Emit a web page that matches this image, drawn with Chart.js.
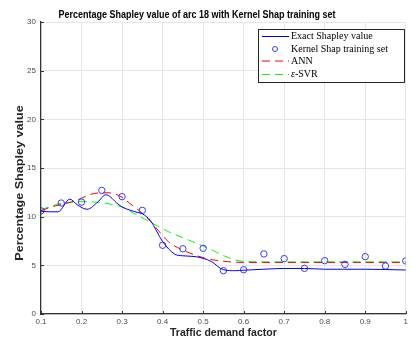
<!DOCTYPE html>
<html><head><meta charset="utf-8">
<script src="https://cdn.jsdelivr.net/npm/chart.js@4/dist/chart.umd.min.js"></script>
<style>html,body{margin:0;padding:0;background:#fff}#wrap{width:411px;height:340px}</style>
</head><body><div id="wrap"><canvas id="c" width="411" height="340"></canvas></div>
<script>
const titleText = 'Percentage Shapley value of arc 18 with Kernel Shap training set';
const xTitle = 'Traffic demand factor';
const yTitle = 'Percentage Shapley value';
const xTicks = [0.1,0.2,0.3,0.4,0.5,0.6,0.7,0.8,0.9,1];
const yTicks = [0,5,10,15,20,25,30];

const exactX = [0.1,0.125,0.142,0.171,0.19,0.214,0.24,0.26,0.29,0.3,0.337,0.35,0.37,0.4,0.43,0.45,0.48,0.5,0.52,0.55,0.58,0.6,0.65,0.7,0.75,0.8,0.9,1.0];
const exactY = [10.55,10.5,10.5,11.8,11.2,10.76,11.5,12.25,11.3,11.0,10.45,10.3,9.6,7.45,6.15,5.98,5.9,5.72,5.4,4.55,4.45,4.5,4.6,4.68,4.68,4.6,4.6,4.52];

const kernelX = [0.1,0.15,0.2,0.25,0.3,0.35,0.4,0.45,0.5,0.55,0.6,0.65,0.7,0.75,0.8,0.85,0.9,0.95,1.0];
const kernelY = [10.6,11.4,11.5,12.7,12.06,10.65,7.06,6.7,6.75,4.45,4.55,6.17,5.69,4.69,5.48,5.1,5.89,4.93,5.45];

const annX = [0.1,0.126,0.15,0.175,0.2,0.223,0.25,0.268,0.3,0.318,0.35,0.375,0.395,0.415,0.448,0.48,0.513,0.56,0.6,0.7,0.8,0.9,1.0];
const annY = [10.6,11.0,11.25,11.5,11.9,12.3,12.45,12.45,12.0,11.4,10.35,9.3,8.3,7.4,6.6,6.06,5.65,5.38,5.3,5.3,5.3,5.3,5.3];

const svrX = [0.1,0.142,0.2,0.256,0.305,0.318,0.367,0.415,0.464,0.513,0.562,0.6,0.65,0.7,0.8,0.9,1.0];
const svrY = [10.7,11.3,11.55,11.4,10.9,10.6,9.5,8.45,7.6,6.75,5.8,5.4,5.35,5.35,5.35,5.35,5.35];

const zip = (xs, ys) => xs.map((x, i) => ({x, y: ys[i]}));
const SANS = '"Liberation Sans", Arial, sans-serif';

const overlay = {
  id: 'overlay',
  beforeDatasetsDraw(chart) {
    // inward tick marks
    const ctx = chart.ctx, a = chart.chartArea;
    const xs = chart.scales.x, ys = chart.scales.y;
    ctx.save();
    ctx.strokeStyle = '#333'; ctx.lineWidth = 1;
    ctx.beginPath();
    xTicks.forEach(v => { const p = Math.round(xs.getPixelForValue(v)) + 0.5; ctx.moveTo(p, a.bottom); ctx.lineTo(p, a.bottom - 3); });
    yTicks.forEach(v => { const p = Math.round(ys.getPixelForValue(v)) + 0.5; ctx.moveTo(a.left, p); ctx.lineTo(a.left + 3, p); });
    ctx.stroke();
    ctx.restore();
  },
  afterDraw(chart) {
    const ctx = chart.ctx, a = chart.chartArea;
    ctx.save();
    ctx.textAlign = 'center'; ctx.textBaseline = 'middle';
    // title
    ctx.save();
    ctx.translate(197, 15);
    ctx.scale(1, 1.15);
    ctx.fillStyle = '#000';
    ctx.font = 'bold 9px ' + SANS;
    ctx.fillText(titleText, 0, 0);
    ctx.restore();
    // x title
    ctx.save();
    ctx.translate((a.left + a.right) / 2, 333);
    ctx.fillStyle = '#262626';
    ctx.font = 'bold 10.5px ' + SANS;
    ctx.fillText(xTitle, 0, 0);
    ctx.restore();
    // y title
    ctx.save();
    ctx.translate(20, 183);
    ctx.rotate(-Math.PI/2);
    ctx.scale(1.2, 1);
    ctx.fillStyle = '#262626';
    ctx.font = 'bold 10.5px ' + SANS;
    ctx.fillText(yTitle, 0, 0);
    ctx.restore();
    // legend
    const lx = 258, ly = 29, lw = 146, lh = 53;
    ctx.fillStyle = '#fff';
    ctx.fillRect(lx, ly, lw, lh);
    ctx.strokeStyle = '#262626'; ctx.lineWidth = 1;
    ctx.strokeRect(lx + 0.5, ly + 0.5, lw, lh);
    const rows = [36.5, 49, 61, 74.5];
    chart.data.datasets.forEach((ds, i) => {
      const y = rows[i];
      ctx.save();
      if (ds.showLine === false) {
        ctx.strokeStyle = ds.borderColor; ctx.lineWidth = 1;
        ctx.beginPath(); ctx.arc(275, y, 2.5, 0, Math.PI*2); ctx.stroke();
      } else {
        ctx.strokeStyle = ds.borderColor; ctx.lineWidth = ds.borderWidth;
        ctx.setLineDash(ds.borderDash || []);
        ctx.beginPath(); ctx.moveTo(262, y); ctx.lineTo(289, y); ctx.stroke();
      }
      ctx.restore();
      ctx.fillStyle = '#000';
      ctx.font = '10px "Liberation Serif", "Times New Roman", serif';
      ctx.textAlign = 'left'; ctx.textBaseline = 'middle';
      if (ds.label.startsWith('ε')) {
        ctx.font = 'italic 10px "Liberation Serif", serif';
        ctx.fillText('ε', 291, y);
        const w = ctx.measureText('ε').width;
        ctx.font = '10px "Liberation Serif", serif';
        ctx.fillText(ds.label.slice(1), 291 + w, y);
      } else {
        ctx.fillText(ds.label, 291, y);
      }
    });
    ctx.restore();
  }
};

new Chart(document.getElementById('c'), {
  type: 'line',
  data: {
    datasets: [
      {label: 'Exact Shapley value', data: zip(exactX, exactY), borderColor: '#0000ff', borderWidth: 1, pointRadius: 0, cubicInterpolationMode: 'monotone', fill: false},
      {label: 'Kernel Shap training set', data: zip(kernelX, kernelY), borderColor: '#3b3bff', backgroundColor: 'rgba(0,0,0,0)', showLine: false, pointRadius: 3.2, pointBorderWidth: 1, pointStyle: 'circle'},
      {label: 'ANN', data: zip(annX, annY), borderColor: '#ff0000', borderWidth: 1, borderDash: [8,5], pointRadius: 0, cubicInterpolationMode: 'monotone', fill: false},
      {label: 'ε-SVR', data: zip(svrX, svrY), borderColor: '#00ff00', borderWidth: 1, borderDash: [8,5], pointRadius: 0, cubicInterpolationMode: 'monotone', fill: false}
    ]
  },
  options: {
    responsive: false, animation: false,
    layout: {padding: {top: 22, right: 1, left: 0, bottom: 0}},
    plugins: {legend: {display: false}, title: {display: false}, tooltip: {enabled: false}},
    scales: {
      x: {
        type: 'linear', min: 0.1, max: 1,
        afterBuildTicks: s => { s.ticks = xTicks.map(v => ({value: v})); },
        afterFit: s => { s.height = 26; },
        ticks: {callback: v => String(parseFloat(v.toFixed(1))), font: {size: 8, family: SANS}, color: '#4d4d4d', padding: 3, maxRotation: 0},
        grid: {color: '#e6e6e6', tickLength: 0},
        border: {color: '#333', width: 1.2},
        title: {display: false}
      },
      y: {
        min: 0, max: 30,
        afterBuildTicks: s => { s.ticks = yTicks.map(v => ({value: v})); },
        afterFit: s => { s.width = 41; },
        ticks: {font: {size: 8, family: SANS}, color: '#4d4d4d', padding: 5},
        grid: {color: '#e6e6e6', tickLength: 0},
        border: {color: '#333', width: 1.2}
      }
    }
  },
  plugins: [overlay]
});
</script></body></html>
